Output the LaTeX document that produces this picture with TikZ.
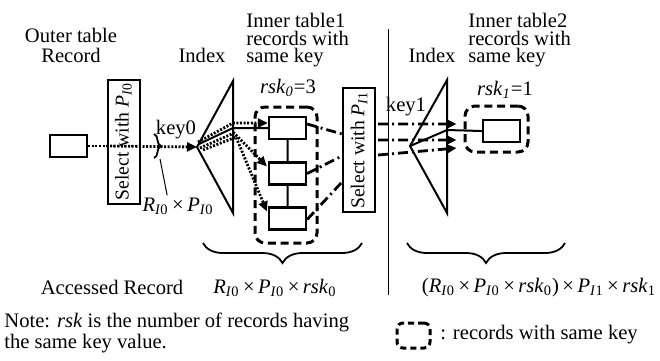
\documentclass[tikz,border=0pt]{standalone}
\usepackage{fontspec}
\setmainfont{Liberation Serif}
\usetikzlibrary{arrows.meta}
\usetikzlibrary{decorations.pathreplacing}
\usetikzlibrary{calc}
\tikzset{>={Stealth[inset=0pt,length=5pt,width=4.5pt]}}
\tikzset{
  rec/.style={draw, line width=1.1pt, minimum width=18.5pt, minimum height=11pt, inner sep=0pt},
  selbox/.style={draw, line width=1pt, rotate=90, minimum width=62pt, minimum height=16pt, inner sep=0pt, font=\fontsize{9.8}{11}\selectfont},
  grp/.style={draw, line width=1.5pt, dash pattern=on 4pt off 2.4pt, rounded corners=5pt, inner sep=0pt},
  lbl/.style={inner sep=0pt, font=\fontsize{10.3}{8.8}\selectfont},
  dotln/.style={line width=1.4pt, dash pattern=on 1pt off 0.8pt},
  dashdotln/.style={line width=1.4pt, dash pattern=on 5pt off 2pt on 1pt off 2pt},
}
\newcommand{\tms}{\kern0.17em×\kern0.17em}
\newcommand{\Rsub}{\textit{R}\textsubscript{\textit{I}0}}
\newcommand{\Psub}[1]{\textit{P}\textsubscript{\textit{I}#1}}
\newcommand{\rsksub}[1]{\textit{rsk}\textsubscript{#1}}

\begin{document}
\begin{tikzpicture}[x=0.75pt,y=0.75pt,yscale=-0.6667,xscale=0.6667]
\useasboundingbox (0,0) rectangle (660,360);

%Headings
\node[lbl, align=center, font=\fontsize{10.3}{10}\selectfont] (outerhd) at (71,45) {Outer table\\Record};
\node[lbl] (idx0hd) at (202,55) {Index};
\node[lbl, align=left, anchor=north west] (inner1hd) at (246,13) {Inner table1\\records with\\same key};
\node[lbl] (idx1hd) at (432,55) {Index};
\node[lbl, align=left, anchor=north west] (inner2hd) at (468,13) {Inner table2\\records with\\same key};

%Outer record and first selection
\node[rec] (outer) at (68.5,146) {};
\node[selbox] (sel0) at (123.5,141.5) {Select with \Psub{0}};

%Index 0
\coordinate (top0) at (233,81);
\coordinate (tip0) at (197,147);
\coordinate (bot0) at (233,213);
\draw[line width=1pt] (top0) -- (tip0) -- (bot0) -- cycle;

%Inner table1 records
\node[grp, minimum width=31pt, minimum height=68pt] (grp0) at (286,175) {};
\node[rec] (r1) at (287.5,128) {};
\node[rec] (r2) at (287.5,173.5) {};
\node[rec] (r3) at (287.5,218.5) {};
\draw[line width=1pt] (r1) -- (r2) -- (r3);
\node[lbl] (rsk0) at (288,88) {\textit{rsk}\textsubscript{\textit{0}}=3};

%Selection 1
\node[selbox] (sel1) at (359,150) {Select with \Psub{1}};

%Separator
\draw[line width=0.5pt] (388,29) -- (388,295);

%Index 1
\coordinate (top1) at (447,80);
\coordinate (tip1) at (410,146);
\coordinate (bot1) at (447,213);
\draw[line width=1pt] (top1) -- (tip1) -- (bot1) -- cycle;

%Inner table2 record
\node[grp, minimum width=31.5pt, minimum height=23pt] (grp1) at (496.5,129) {};
\node[rec] (r4) at (501.5,131) {};
\node[lbl] (rsk1) at (505,90) {\textit{rsk}\textsubscript{\textit{1}}=1};

%Keys
\node[lbl] (key0) at (176,130) {key0};
\node[lbl] (key1) at (406,107) {key1};

%Access paths of outer record
\draw[dotln] (outer.east) -- (outer.east -| sel0.south);
\draw[dotln,->] (sel0.north |- outer.east) -- (tip0);
\draw[line width=0.9pt, decorate, decoration={brace, amplitude=3.5pt}] (154,134) -- (154,158);
\node[lbl] (rp0) at (178,206) {\Rsub\tms\Psub{0}};
\coordinate (brc0) at (160,159);
\draw[line width=0.5pt] (brc0) -- ($(rp0.north west)+(25,-2)$);

%Index 0 to records
\coordinate (e0a) at (233,123);
\coordinate (e0b) at (233,128);
\coordinate (e0c) at (234,133);
\coordinate (e0d) at (236,137);
\draw[dotln,->] ($(tip0)+(1,-5)$) -- (e0a) -- ($(r1.west)+(0,-5)$);
\draw[line width=1pt] ($(tip0)+(2,-3)$) -- (e0b) -- (r1.west);
\draw[dotln,->] ($(tip0)+(3,1)$) -- (e0c) -- ($(r2.west)+(-1,-7)$);
\draw[dotln,->] ($(tip0)+(6,3)$) -- (e0d) -- ($(r3.west)+(-1,-7)$);

%Records to selection 1
\coordinate (s1a) at (342,134);
\coordinate (s1b) at (342,156);
\coordinate (s1c) at (342,182);
\draw[dashdotln] ($(r1.east)+(0,-4)$) -- (s1a);
\draw[dashdotln] ($(r2.east)+(0,0)$) -- (s1b);
\draw[dashdotln] ($(r3.east)+(0,1)$) -- (s1c);

%Selection 1 to index 1
\draw[dashdotln,->] ($(sel1.south)+(2,-26)$) -- ($(grp1.west)+(-7,-5)$);
\draw[dashdotln,->] ($(sel1.south)+(2,-10)$) -- ($(grp1.west)+(-7,11)$);
\draw[dashdotln,->] ($(sel1.south)+(2,5)$) -- ($(grp1.west)+(-7,19)$);
\coordinate (e1) at (447,130);
\draw[line width=1pt] (tip1) -- (e1) -- (r4.west);

%Braces and counts
\draw[line width=0.9pt, decorate, decoration={brace, amplitude=10pt}] (362,243) -- (203,243);
\draw[line width=0.9pt, decorate, decoration={brace, amplitude=10pt}] (565,243) -- (407,243);
\node[lbl] (acc) at (112,287) {Accessed Record};
\node[lbl] (cnt0) at (275,288) {\Rsub\tms\Psub{0}\tms\rsksub{0}};
\node[lbl] (cnt1) at (539,288) {(\Rsub\tms\Psub{0}\tms\rsksub{0})\tms\Psub{1}\tms\rsksub{1}};

%Note and legend
\node[lbl, align=left, anchor=north west] (note) at (4,313) {Note: \textit{rsk} is the number of records having\\the same key value.};
\node[grp, minimum width=16.5pt, minimum height=12.5pt, rounded corners=3pt, dash pattern=on 3pt off 2pt] (leg) at (413.5,335.5) {};
\node[lbl, anchor=west] (legtxt) at (440,335) {: records with same key};
\end{tikzpicture}
\end{document}
